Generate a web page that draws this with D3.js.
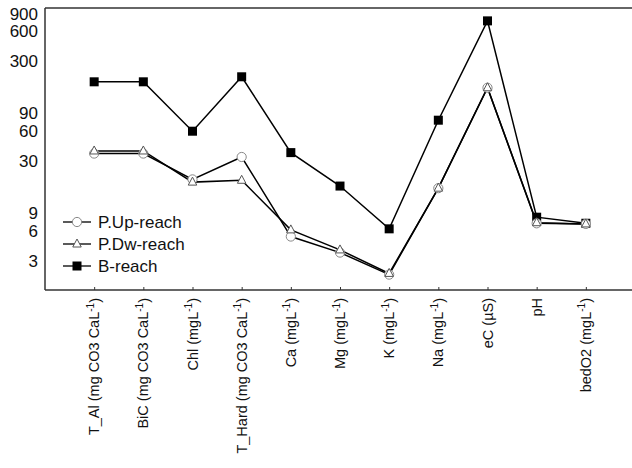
<!DOCTYPE html>
<html><head><meta charset="utf-8">
<script src="https://cdn.jsdelivr.net/npm/d3@7"></script>
<style>body{margin:0;background:#fff}svg{display:block}</style>
</head><body>
<svg id="c" width="632" height="468"></svg>
<script>
const categories = ["T_Al","BiC","Chl","T_Hard","Ca","Mg","K","Na","eC","pH","bedO2"];
const catLabels = [
  ["T_Al (mg CO3 CaL","-1",")"],
  ["BiC (mg CO3 CaL","-1",")"],
  ["Chl (mgL","-1",")"],
  ["T_Hard (mg CO3 CaL","-1",")"],
  ["Ca (mgL","-1",")"],
  ["Mg (mgL","-1",")"],
  ["K (mgL","-1",")"],
  ["Na (mgL","-1",")"],
  ["eC (µS)","",""],
  ["pH","",""],
  ["bedO2 (mgL","-1",")"]
];
const pUp = [35.6,35.6,19.6,32.9,5.23,3.61,2.17,16.0,163,7.1,7.0];
const pDw = [37.8,37.8,18.4,19.2,6.1,3.84,2.23,16.0,163,7.2,7.0];
const bReach = [187,187,59.7,210,36.4,16.8,6.25,77,765,8.18,7.11];
const yTicks = [3,6,9,30,60,90,300,600,900];
const seriesNames = ["P.Up-reach","P.Dw-reach","B-reach"];

const svg = d3.select("#c");
const L = 45, T = 8, B = 290, R = 635;
const x = d3.scalePoint().domain(categories).range([L, R]).padding(1);
const y = d3.scaleLog().domain([1.52, 1030]).range([B, T]);

// frame
const frameCol = "#333";
svg.append("line").attr("x1",L).attr("x2",632).attr("y1",T).attr("y2",T).attr("stroke",frameCol).attr("stroke-width",1.5);
svg.append("line").attr("x1",L).attr("x2",632).attr("y1",B).attr("y2",B).attr("stroke",frameCol).attr("stroke-width",1.5);
svg.append("line").attr("x1",L).attr("x2",L).attr("y1",T).attr("y2",B).attr("stroke",frameCol).attr("stroke-width",1.5);

// y axis labels
const yAxis = d3.axisLeft(y).tickValues(yTicks).tickSize(0).tickPadding(7).tickFormat(d3.format("d"));
const yg = svg.append("g").attr("transform",`translate(${L},0)`).call(yAxis);
yg.select(".domain").remove();
yg.selectAll("text").attr("font-family","Liberation Sans, Arial, sans-serif").attr("font-size",17).attr("fill","#111");

// x axis ticks (inward)
const xAxis = d3.axisTop(x).tickSize(3).tickFormat("");
const xg = svg.append("g").attr("transform",`translate(0,${B})`).call(xAxis);
xg.select(".domain").remove();
xg.selectAll("line").attr("stroke",frameCol);

// x labels
categories.forEach((c,i)=>{
  const t = svg.append("text")
    .attr("transform",`translate(${x(c)},298) rotate(-90)`)
    .attr("text-anchor","end").attr("dy","0.35em")
    .attr("font-family","Liberation Sans, Arial, sans-serif").attr("font-size",14.5).attr("fill","#111");
  const lab = catLabels[i];
  t.append("tspan").text(lab[0]);
  if (lab[1]) {
    t.append("tspan").attr("font-size",10).attr("dy","-0.55em").text(lab[1]);
    t.append("tspan").attr("dy","0.4em").text(lab[2]);
  }
});

const line = d3.line().x((d,i)=>x(categories[i])).y(d=>y(d));
const data = [bReach, pDw, pUp];
data.forEach(s=>{
  svg.append("path").attr("d",line(s)).attr("fill","none").attr("stroke","#000").attr("stroke-width",1.5);
});

function drawMarker(g, type, cx, cy){
  if(type==="circle"){
    g.append("circle").attr("cx",cx).attr("cy",cy).attr("r",4.6).attr("fill","#fff").attr("stroke","#888").attr("stroke-width",1);
  } else if(type==="tri"){
    const s = 5;
    g.append("path").attr("d",`M${cx},${cy-s}L${cx+s*0.85},${cy+s*0.6}L${cx-s*0.85},${cy+s*0.6}Z`).attr("fill","#fff").attr("stroke","#555").attr("stroke-width",1);
  } else {
    g.append("rect").attr("x",cx-4.5).attr("y",cy-4.5).attr("width",9).attr("height",9).attr("fill","#000");
  }
}
const mg = svg.append("g");
bReach.forEach((v,i)=>drawMarker(mg,"sq",x(categories[i]),y(v)));
pUp.forEach((v,i)=>drawMarker(mg,"circle",x(categories[i]),y(v)));
pDw.forEach((v,i)=>drawMarker(mg,"tri",x(categories[i]),y(v)));

// legend
const types = ["circle","tri","sq"];
seriesNames.forEach((n,i)=>{
  const ly = 222 + i*22;
  svg.append("line").attr("x1",63).attr("x2",91).attr("y1",ly).attr("y2",ly).attr("stroke","#000").attr("stroke-width",1.3);
  drawMarker(svg, types[i], 77, ly);
  svg.append("text").attr("x",98).attr("y",ly).attr("dy","0.36em")
    .attr("font-family","Liberation Sans, Arial, sans-serif").attr("font-size",17).attr("fill","#111").text(n);
});
</script>
</body></html>
